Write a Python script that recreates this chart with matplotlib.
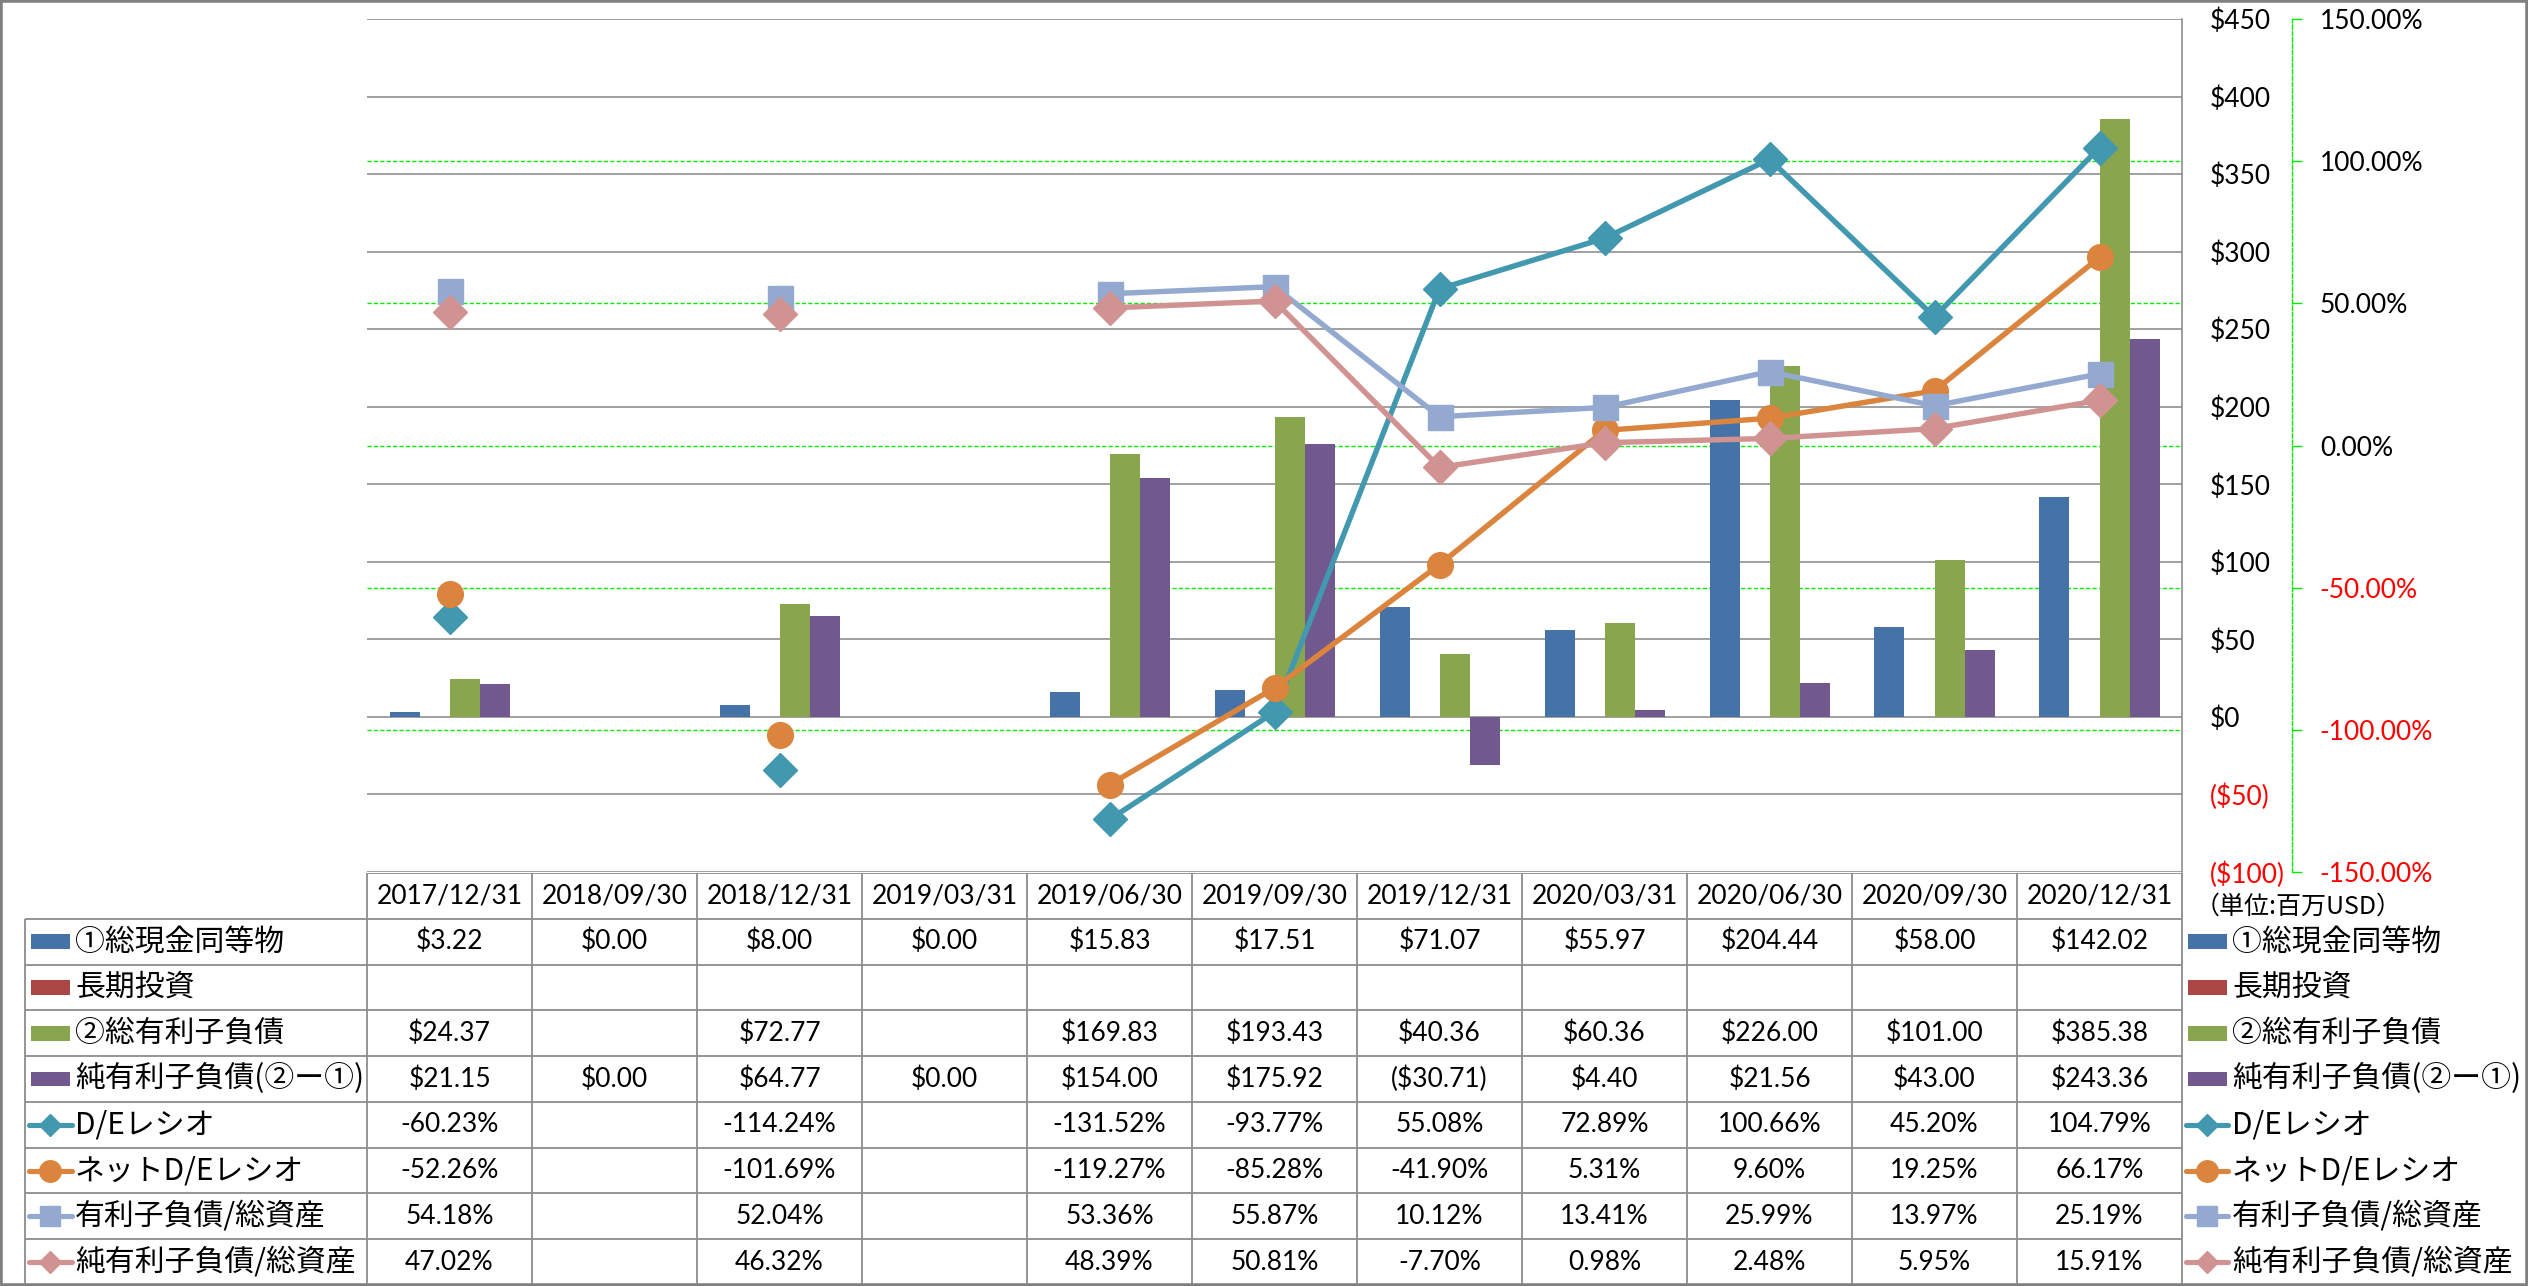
import matplotlib
matplotlib.use('Agg')
import matplotlib.pyplot as plt
import numpy as np
from matplotlib.patches import Rectangle
from matplotlib.transforms import blended_transform_factory

plt.rcParams['font.family'] = ['Lato', 'Noto Sans CJK JP', 'DejaVu Sans']
JP = ['Noto Sans CJK JP', 'DejaVu Sans']
nan = np.nan

# ---------------- data ----------------
dates = ['2017/12/31', '2018/09/30', '2018/12/31', '2019/03/31', '2019/06/30', '2019/09/30',
         '2019/12/31', '2020/03/31', '2020/06/30', '2020/09/30', '2020/12/31']
cash = [3.22, 0.00, 8.00, 0.00, 15.83, 17.51, 71.07, 55.97, 204.44, 58.00, 142.02]
long_term_invest = [nan] * 11
debt = [24.37, nan, 72.77, nan, 169.83, 193.43, 40.36, 60.36, 226.00, 101.00, 385.38]
net_debt = [21.15, 0.00, 64.77, 0.00, 154.00, 175.92, -30.71, 4.40, 21.56, 43.00, 243.36]
de_ratio = [-60.23, nan, -114.24, nan, -131.52, -93.77, 55.08, 72.89, 100.66, 45.20, 104.79]
net_de_ratio = [-52.26, nan, -101.69, nan, -119.27, -85.28, -41.90, 5.31, 9.60, 19.25, 66.17]
debt_to_assets = [54.18, nan, 52.04, nan, 53.36, 55.87, 10.12, 13.41, 25.99, 13.97, 25.19]
net_debt_to_assets = [47.02, nan, 46.32, nan, 48.39, 50.81, -7.70, 0.98, 2.48, 5.95, 15.91]

bar_series = [cash, long_term_invest, debt, net_debt]
bar_labels = ['①総現金同等物', '長期投資', '②総有利子負債', '純有利子負債(②ー①)']
bar_colors = ['#4572A7', '#AA4643', '#89A54E', '#71588F']

line_series = [de_ratio, net_de_ratio, debt_to_assets, net_debt_to_assets]
line_labels = ['D/Eレシオ', 'ネットD/Eレシオ', '有利子負債/総資産', '純有利子負債/総資産']
line_colors = ['#4198AF', '#DB843D', '#93A9CF', '#D19392']
line_markers = ['D', 'o', 's', 'D']
line_msizes = [17.5, 18.5, 18, 17.5]
legend_msizes = [11.5, 15.5, 15, 11.5]

primary_ticks = list(range(-100, 451, 50))
secondary_ticks = [-150, -100, -50, 0, 50, 100, 150]

unit_label = '（単位:百万USD）'

# ---------------- layout helpers ----------------
W, H = 2528, 1286
PL, PR, PT, PB = 367, 2182, 19, 872          # plot area pixel box
COLW = (PR - PL) / len(dates)


def px2x(p):
    return (p - PL) / COLW - 0.5


def money(v):
    if v < 0:
        return '(${:,.2f})'.format(-v)
    return '${:,.2f}'.format(v)


def money_tick(v):
    if v < 0:
        return '(${:d})'.format(int(-v))
    return '${:d}'.format(int(v))


fig = plt.figure(figsize=(W / 100, H / 100), dpi=100)
ax = fig.add_axes([PL / W, 1 - PB / H, (PR - PL) / W, (PB - PT) / H])
ax2 = ax.twinx()

n = len(dates)
x = np.arange(n)
bw = 30 / COLW
offsets = [-1.5 * bw, -0.5 * bw, 0.5 * bw, 1.5 * bw]

for vals, col, off, lab in zip(bar_series, bar_colors, offsets, bar_labels):
    ax.bar(x + off, np.array(vals, dtype=float), width=bw, color=col, zorder=2, label=lab)

ax.set_xlim(-0.5, n - 0.5)
ax.set_ylim(-100, 450)
ax.set_yticks(primary_ticks)
ax.set_yticklabels([money_tick(v) for v in primary_ticks])
ax.set_xticks([])
ax.grid(axis='y', color='#868686', lw=1.1, zorder=1)
ax.set_axisbelow(True)
for s in ['left', 'top', 'bottom']:
    ax.spines[s].set_visible(False)
ax.spines['right'].set_color('#868686')
ax.spines['right'].set_linewidth(1.1)
ax.yaxis.tick_right()
ax.tick_params(axis='y', length=0, pad=20, labelsize=19)
for lbl, v in zip(ax.get_yticklabels(), primary_ticks):
    lbl.set_color('#FF0000' if v < 0 else 'black')
    lbl.set_horizontalalignment('left')

# secondary gridlines behind the bars (inner ones; outer coincide with the frame)
trans = blended_transform_factory(ax.transAxes, ax2.transData)
for v in secondary_ticks[1:-1]:
    ax.plot([0, 1], [v, v], transform=trans, color='#00EE00', lw=1.0,
            ls=(0, (3, 1.6)), zorder=0.8, clip_on=False)

for vals, col, mk, ms, lab in zip(line_series, line_colors, line_markers, line_msizes, line_labels):
    ax2.plot(x, np.array(vals, dtype=float), color=col, lw=3.9, marker=mk, ms=ms,
             mfc=col, mec=col, mew=1, solid_joinstyle='round', label=lab, zorder=3)

ax2.set_ylim(-150, 150)
ax2.set_yticks(secondary_ticks)
ax2.set_yticklabels(['{:.2f}%'.format(v) for v in secondary_ticks])
for s in ['left', 'top', 'bottom']:
    ax2.spines[s].set_visible(False)
ax2.spines['right'].set_position(('outward', (2292 - PR) * 0.72))
ax2.spines['right'].set_color('#00EE00')
ax2.spines['right'].set_linestyle((0, (3, 1.6)))
ax2.spines['right'].set_linewidth(1.0)
ax2.tick_params(axis='y', direction='out', length=7, width=1, color='#00EE00', pad=13, labelsize=19)
for lbl, v in zip(ax2.get_yticklabels(), secondary_ticks):
    lbl.set_color('#FF0000' if v < 0 else 'black')

# ---------------- data table ----------------
TT, TB = 873, 1285
nrows = 9
tab = fig.add_axes([0, 1 - TB / H, 1, (TB - TT) / H])
tab.set_xlim(px2x(0), px2x(W))
tab.set_ylim(nrows, 0)
tab.axis('off')

gc = '#8C8C8C'
glw = 1.3
tab.plot([-0.5, n - 0.5], [0, 0], color=gc, lw=glw, solid_capstyle='butt')
for r in range(1, nrows + 1):
    tab.plot([px2x(25), n - 0.5], [r, r], color=gc, lw=glw, solid_capstyle='butt')
for k in range(n + 1):
    tab.plot([k - 0.5, k - 0.5], [0, nrows], color=gc, lw=glw, solid_capstyle='butt')
tab.plot([px2x(25), px2x(25)], [1, nrows], color=gc, lw=glw, solid_capstyle='butt')

FS = 19
for i, d in enumerate(dates):
    tab.text(i, 0.5, d, ha='center', va='center', fontsize=FS)

fmt_rows = []
for vals in bar_series:
    fmt_rows.append(['' if np.isnan(v) else money(v) for v in vals])
for vals in line_series:
    fmt_rows.append(['' if np.isnan(v) else '{:.2f}%'.format(v) for v in vals])

for r, row in enumerate(fmt_rows):
    for i, s in enumerate(row):
        if s:
            tab.text(i, r + 1.5, s, ha='center', va='center', fontsize=FS)

JFS = 21.5


def legend_column(rect_l, rect_r, line_l, line_r, mark_c, text_l):
    for r, (lab, col) in enumerate(zip(bar_labels, bar_colors)):
        yc = r + 1.5
        tab.add_patch(Rectangle((px2x(rect_l), yc - 7.5 / 45.8), px2x(rect_r) - px2x(rect_l),
                                15 / 45.8, color=col, lw=0))
        tab.text(px2x(text_l), yc, lab, ha='left', va='center', fontsize=JFS, family=JP)
    for r, (lab, col, mk, ms) in enumerate(zip(line_labels, line_colors, line_markers, legend_msizes)):
        yc = r + 5.5
        tab.plot([px2x(line_l), px2x(mark_c), px2x(line_r)], [yc, yc, yc], color=col, lw=3.7,
                 marker=mk, ms=ms, mfc=col, mec=col, markevery=[1], solid_capstyle='round')
        tab.text(px2x(text_l), yc, lab, ha='left', va='center', fontsize=JFS, family=JP)


legend_column(31, 70, 29, 72, 50, 75)
legend_column(2188, 2227, 2186, 2228, 2207, 2232)

tab.text(px2x(2195), (907 - TT) / ((TB - TT) / nrows), unit_label, ha='left', va='center',
         fontsize=18, family=JP)

# outer frame
fig.patches.append(Rectangle((0, 0), 1, 1, transform=fig.transFigure, fill=False,
                             ec='#808080', lw=4))

fig.savefig('out.png', dpi=100)
